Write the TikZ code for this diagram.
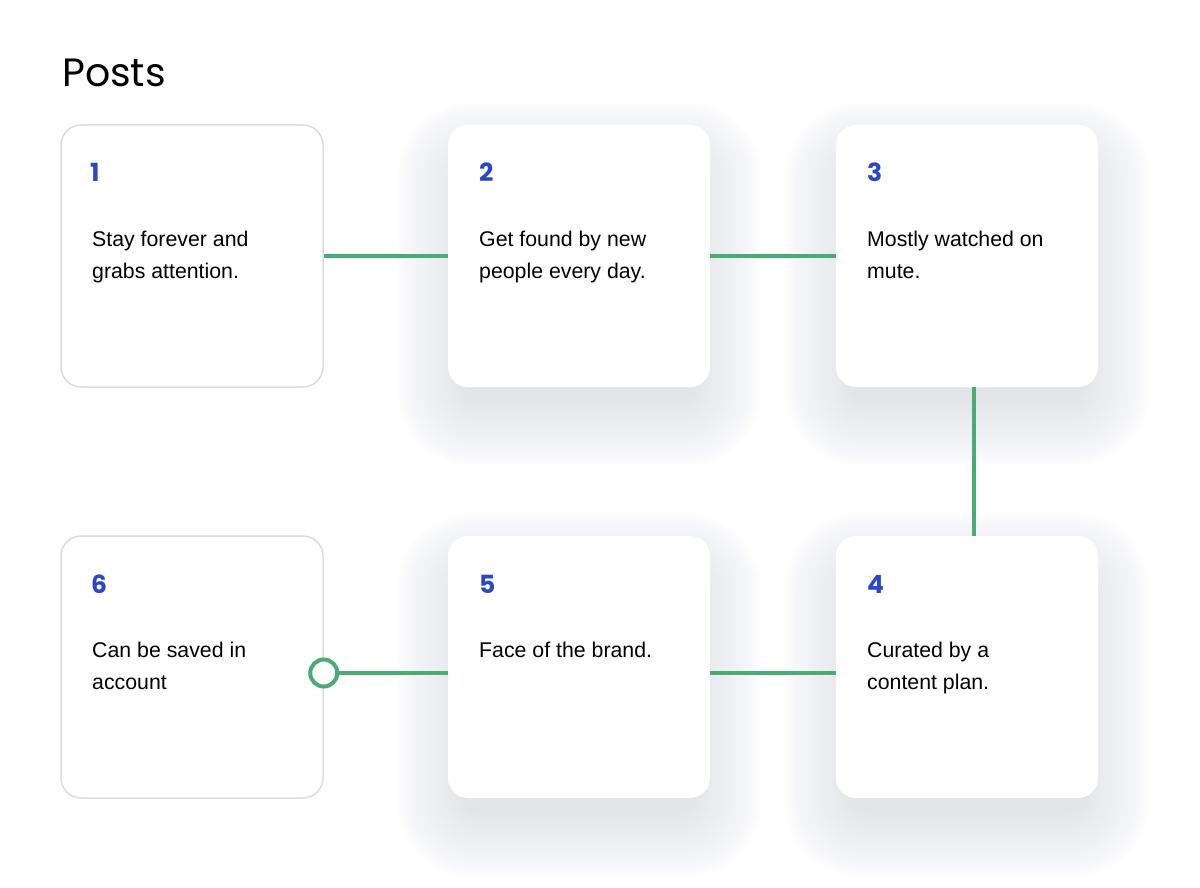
\documentclass[tikz,border=0pt]{standalone}
\usepackage{fontspec}
\setmainfont{Liberation Sans}
\newfontfamily\titlefont{Poppins}
\definecolor{linegreen}{RGB}{76,170,118}
\definecolor{numblue}{RGB}{43,70,200}
\definecolor{cardborder}{RGB}{220,220,222}
\definecolor{shadowcol}{RGB}{160,163,192}
\tikzset{
  card/.style={rounded corners=20pt, minimum width=262pt, minimum height=262pt, inner sep=0pt, fill=white},
  plaincard/.style={card, draw=cardborder, line width=1.5pt},
  num/.style={font=\titlefont\bfseries\fontsize{25}{25}\selectfont, text=numblue, anchor=base west, inner sep=0pt},
  txt/.style={font=\fontsize{21.3}{32}\selectfont, align=left, anchor=base west, inner sep=0pt},
  link/.style={draw=linegreen, line width=4pt},
  dot/.style={circle, draw=linegreen, line width=4pt, fill=white, minimum size=27pt, inner sep=0pt},
}
\newcommand\softshadow[2]{%
  \foreach \k in {1,...,22}{%
    \pgfmathsetmacro\rr{20+2.5*\k}%
    \pgfmathsetmacro\ee{3*\k-15}%
    \fill[shadowcol, opacity=0.011, rounded corners=\rr pt]
      (#1-131-\ee, #2-131-\ee+28) rectangle (#1+131+\ee, #2+131+\ee+28);
  }%
}
\begin{document}
\begin{tikzpicture}[x=1pt, y=-1pt]
  \fill[white] (0,0) rectangle (1200,888);
  \useasboundingbox (0,0) rectangle (1200,888);

  \node[font=\titlefont\fontsize{39.5}{39.5}\selectfont, anchor=base west, inner sep=0pt] (title) at (62,87) {Posts};

  % shadows
  \softshadow{579}{256}
  \softshadow{967}{256}
  \softshadow{967}{667}
  \softshadow{579}{667}

  % cards
  \node[plaincard] (b1) at (192,256) {};
  \node[card] (b2) at (579,256) {};
  \node[card] (b3) at (967,256) {};
  \node[card] (b4) at (967,667) {};
  \node[card] (b5) at (579,667) {};
  \node[plaincard] (b6) at (192,667) {};

  % connectors
  \draw[link] (b1.east) -- (b2.west);
  \draw[link] (b2.east) -- (b3.west);
  \draw[link] ([xshift=7pt]b3.south) -- ([xshift=7pt]b4.north);
  \draw[link] ([yshift=-6pt]b4.west) -- ([yshift=-6pt]b5.east);
  \node[dot] (c6) at ([yshift=-6pt]b6.east) {};
  \draw[link] ([yshift=-6pt]b5.west) -- (c6.east);

  % numbers
  \node[num] (n1) at (90,182) {1};
  \node[num] (n2) at (479,182) {2};
  \node[num] (n3) at (867,182) {3};
  \node[num] (n4) at (867,593) {4};
  \node[num] (n5) at (479,593) {5};
  \node[num] (n6) at (91,593) {6};

  % texts (base anchor = last line baseline)
  \node[txt] (t1) at (92,278) {Stay forever and\\grabs attention.};
  \node[txt] (t2) at (479,278) {Get found by new\\people every day.};
  \node[txt] (t3) at (867,278) {Mostly watched on\\mute.};
  \node[txt] (t4) at (867,689) {Curated by a\\content plan.};
  \node[txt] (t5) at (479,657) {Face of the brand.};
  \node[txt] (t6) at (92,689) {Can be saved in\\account};
\end{tikzpicture}
\end{document}
